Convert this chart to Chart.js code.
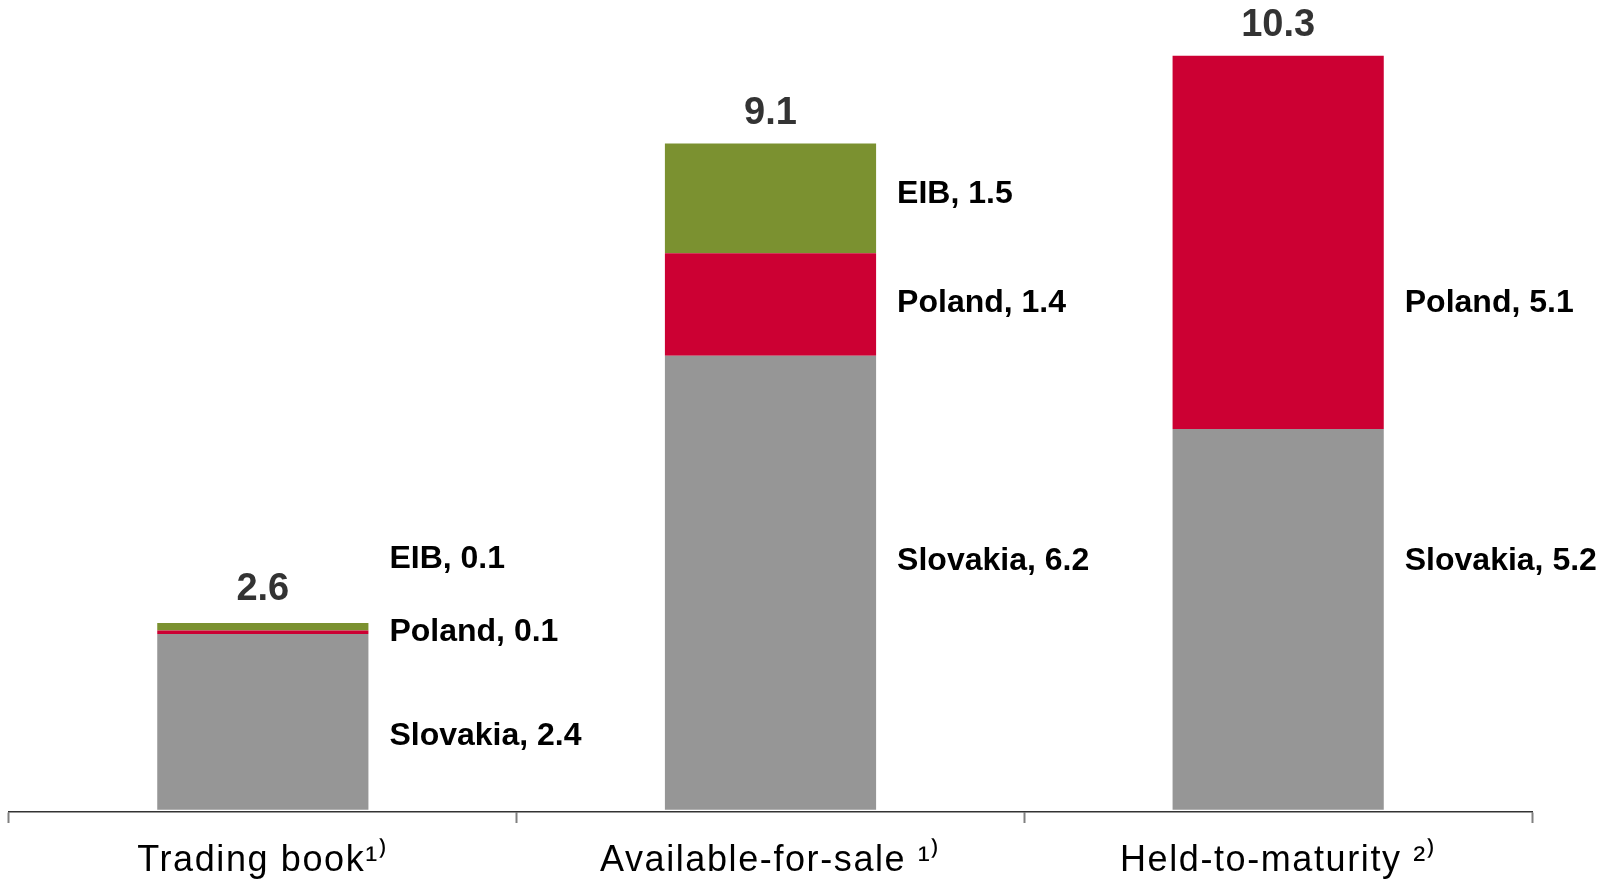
<!DOCTYPE html>
<html>
<head>
<meta charset="utf-8">
<script src="https://cdn.jsdelivr.net/npm/chart.js@4/dist/chart.umd.min.js"></script>
<style>
  html, body { margin: 0; padding: 0; background: #ffffff; }
  #wrap { width: 1597px; height: 881px; }
</style>
</head>
<body>
<div id="wrap"><canvas id="c" width="1597" height="881"></canvas></div>
<script>
// ---- data ----
const categories = ['Trading book\u00B9\u207E', 'Available-for-sale \u00B9\u207E', 'Held-to-maturity \u00B2\u207E'];
const seriesNames = ['Slovakia', 'Poland', 'EIB'];
const slovakia = [2.4, 6.2, 5.2];
const poland = [0.05, 1.4, 5.1];
const eib = [0.1, 1.5, 0];
const totals = [2.6, 9.1, 10.3];

// ---- presentation (positions of the side labels, in value units) ----
const labelAnchors = [
  [1.04, 3.44, 3.44],
  [2.47, 6.96, 6.96],
  [3.46, 8.45, null]
];
const colors = ['#969696', '#CC0033', '#7B9130'];
const FONT = '"Liberation Sans", Arial, Helvetica, sans-serif';

const labelPlugin = {
  id: 'labels',
  beforeDraw(chart) {
    chart.ctx.letterSpacing = '1.6px';
  },
  afterDatasetsDraw(chart) {
    const ctx = chart.ctx;
    const y = chart.scales.y;
    ctx.save();
    ctx.letterSpacing = '0px';
    ctx.textBaseline = 'middle';
    // side labels
    ctx.font = 'bold 32px ' + FONT;
    ctx.fillStyle = '#000000';
    ctx.textAlign = 'left';
    chart.data.datasets.forEach((ds, i) => {
      const meta = chart.getDatasetMeta(i);
      ds.data.forEach((v, j) => {
        if (!v) return;
        const bar = meta.data[j];
        const xRight = bar.x + bar.width / 2;
        const a = labelAnchors[i][j];
        if (a == null) return;
        ctx.fillText(ds.label + ', ' + v.toFixed(1), xRight + 21, y.getPixelForValue(a) + 3);
      });
    });
    // totals
    ctx.font = 'bold 38px ' + FONT;
    ctx.fillStyle = '#333333';
    ctx.textAlign = 'center';
    const m0 = chart.getDatasetMeta(0);
    totals.forEach((t, j) => {
      const x = m0.data[j].x;
      ctx.fillText(t.toFixed(1), x, y.getPixelForValue(t) - 30);
    });
    ctx.restore();
  }
};

new Chart(document.getElementById('c'), {
  type: 'bar',
  data: {
    labels: categories,
    datasets: [
      { label: seriesNames[0], data: slovakia, backgroundColor: colors[0] },
      { label: seriesNames[1], data: poland, backgroundColor: colors[1] },
      { label: seriesNames[2], data: eib, backgroundColor: colors[2] }
    ]
  },
  options: {
    responsive: false,
    animation: false,
    devicePixelRatio: 1,
    layout: { padding: { left: 9, right: 65, top: 0, bottom: 0 } },
    datasets: { bar: { categoryPercentage: 1, barPercentage: 0.416, borderWidth: 0 } },
    plugins: { legend: { display: false }, tooltip: { enabled: false }, title: { display: false } },
    scales: {
      x: {
        stacked: true,
        afterFit(scale) { scale.height = 69; },
        border: { display: true, color: '#333333', width: 1.5 },
        grid: { offset: true, drawOnChartArea: false, drawTicks: true, tickLength: 11, tickColor: '#808080', tickWidth: 2 },
        ticks: { color: '#000000', font: { family: FONT, size: 36 }, padding: 16, maxRotation: 0, autoSkip: false }
      },
      y: {
        stacked: true,
        display: false,
        min: -0.03,
        max: 11.06
      }
    }
  },
  plugins: [labelPlugin]
});
</script>
</body>
</html>
